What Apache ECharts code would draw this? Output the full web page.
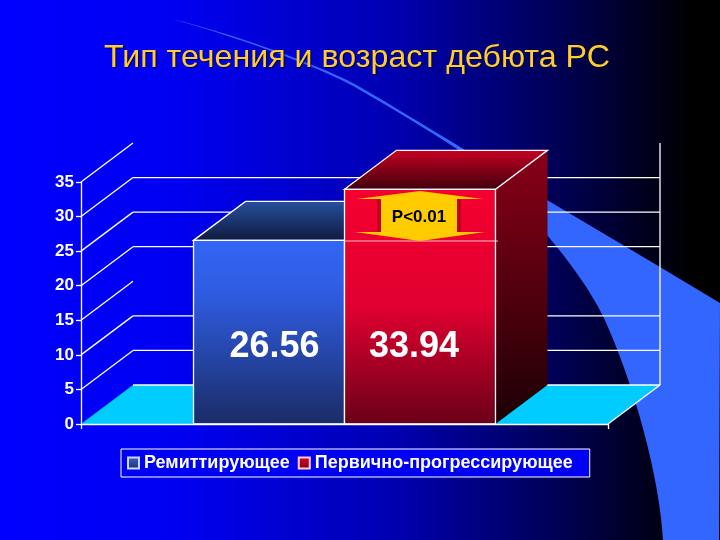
<!DOCTYPE html>
<html>
<head>
<meta charset="utf-8">
<style>html,body{margin:0;padding:0;background:#000}#c{width:720px;height:540px}</style>
<script src="https://cdn.jsdelivr.net/npm/echarts@6/dist/echarts.min.js"></script>
</head>
<body>
<div id="c"></div>
<script>
var titleText = 'Тип течения и возраст дебюта РС';
var categories = ['Возраст дебюта'];
var seriesNames = ['Ремиттирующее', 'Первично-прогрессирующее'];
var ages = [26.56, 33.94];
var yTicks = [0, 5, 10, 15, 20, 25, 30, 35];
var backWallTicks = [0, 5, 10, 20, 25, 30];
var pLabel = 'P<0.01';

var DX = 52, DY = 39, BAR_RATIO = 0.2865, LW = 1.3, FONT = '"Liberation Sans", Arial, sans-serif';
var SWOOSH = 'M172,19 C 205,27 255,42 300,60 C 325,70 345,78 360,87 C 395,107 425,126 457,145 L 547,200 L 660,267 L 720,303 L 719,540 L 663,540 C 660,480 635,385 603,316 C 590,290 570,262 547,235 C 520,205 490,176 457,149 C 425,128 395,110 360,90 C 345,81 325,72 300,62 C 255,44 205,28 172,19 Z';
function vgrad(stops) {
  return { type: 'linear', x: 0, y: 0, x2: 0, y2: 1,
    colorStops: stops.map(function (s) { return { offset: s[0], color: s[1] }; }) };
}
var palettes = [
  { front: vgrad([[0, '#3366f5'], [0.3, '#2f5be0'], [1, '#1a2c66']]),
    top: vgrad([[0, '#27509f'], [1, '#0e1a3e']]),
    side: vgrad([[0, '#14244f'], [1, '#0a1228']]),
    legend: vgrad([[0, '#3a66d8'], [1, '#1a2c66']]), dx: 5.5, drawSide: false },
  { front: vgrad([[0, '#f50030'], [0.5, '#e00030'], [1, '#6a0018']]),
    top: vgrad([[0, '#c80022'], [1, '#3e000c']]),
    side: vgrad([[0, '#8a0018'], [1, '#1c0004']]),
    legend: vgrad([[0, '#e00028'], [1, '#7a0018']]), dx: -6, drawSide: true }
];

function barRenderer(idx) {
  return function (params, api) {
    var v = api.value(1);
    var band = api.size([1, 0])[0];
    var w = band * BAR_RATIO;
    var c0 = api.coord([api.value(0), 0]);
    var c1 = api.coord([api.value(0), v]);
    var x0 = c0[0] + (idx - 1) * w, x1 = x0 + w, yb = c0[1], yt = c1[1];
    var pal = palettes[idx];
    var kids = [];
    if (pal.drawSide) {
      kids.push({ type: 'polygon', shape: { points: [[x1, yt], [x1 + DX, yt - DY], [x1 + DX, yb - DY], [x1, yb]] },
        style: { fill: pal.side } });
    }
    kids.push({ type: 'polygon', shape: { points: [[x0, yt], [x0 + DX, yt - DY], [x1 + DX, yt - DY], [x1, yt]] },
      style: { fill: pal.top, stroke: '#ffffff', lineWidth: LW } });
    kids.push({ type: 'rect', shape: { x: x0, y: yt, width: w, height: yb - yt },
      style: { fill: pal.front, stroke: '#ffffff', lineWidth: LW } });
    kids.push({ type: 'text', style: { text: v.toFixed(2), x: (x0 + x1) / 2 + pal.dx, y: api.coord([0, 11.1])[1],
      fill: '#ffffff', font: 'bold 36px ' + FONT, align: 'center', verticalAlign: 'middle' } });
    return { type: 'group', children: kids };
  };
}

function frameRenderer(params, api) {
  var v = api.value(1);
  var band = api.size([1, 0])[0];
  var c = api.coord([0, v]);
  var xl = c[0] - band / 2, xr = c[0] + band / 2, y = c[1];
  var line = { stroke: '#ffffff', lineWidth: LW };
  var kids = [];
  if (v === 0) {
    kids.push({ type: 'polygon', shape: { points: [[xl, y], [xl + DX, y - DY], [xr + DX, y - DY], [xr, y]] },
      style: { fill: '#00ccff' } });
    kids.push({ type: 'line', shape: { x1: xr, y1: y, x2: xr + DX, y2: y - DY }, style: line });
    var topY = api.coord([0, 35])[1] - DY;
    kids.push({ type: 'line', shape: { x1: xr + DX, y1: y - DY, x2: xr + DX, y2: topY }, style: line });
  } else {
    kids.push({ type: 'line', shape: { x1: xl, y1: y, x2: xl + DX, y2: y - DY }, style: line });
  }
  if (backWallTicks.indexOf(v) >= 0) {
    kids.push({ type: 'line', shape: { x1: xl + DX, y1: y - DY, x2: xr + DX, y2: y - DY }, style: line });
  }
  return { type: 'group', children: kids };
}

function swooshRenderer() {
  return { type: 'path', shape: { pathData: SWOOSH }, style: { fill: '#3366ff' } };
}

var chart = echarts.init(document.getElementById('c'), null, { renderer: 'canvas' });
chart.setOption({
  animation: false,
  backgroundColor: { type: 'linear', x: 0, y: 0, x2: 1, y2: 0, colorStops: [
    { offset: 0, color: '#0000ff' }, { offset: 0.25, color: '#0000f0' },
    { offset: 0.55, color: '#0000b0' }, { offset: 0.8, color: '#00004a' }, { offset: 0.96, color: '#000000' }, { offset: 1, color: '#000000' }] },
  title: { text: titleText, left: 99, top: 37,
    textStyle: { color: '#ffcc33', fontFamily: FONT, fontWeight: 'normal', fontSize: 32.2,
      textShadowColor: 'rgba(0,0,40,0.9)', textShadowOffsetX: 1, textShadowOffsetY: 1, textShadowBlur: 1 } },
  grid: { left: 81, right: 112, top: 182, bottom: 116 },
  xAxis: { type: 'category', data: categories, boundaryGap: true, z: 5,
    axisLabel: { show: false },
    axisLine: { lineStyle: { color: '#ffffff', width: LW } },
    axisTick: { show: true, length: 5, lineStyle: { color: '#ffffff', width: LW } } },
  yAxis: { type: 'value', min: 0, max: 35, interval: 5,
    splitLine: { show: false },
    axisLine: { show: true, lineStyle: { color: '#ffffff', width: LW } },
    axisTick: { show: true, length: 5, lineStyle: { color: '#ffffff', width: LW } },
    axisLabel: { color: '#ffffff', fontFamily: FONT, fontWeight: 'bold', fontSize: 17, margin: 7 } },
  legend: { left: 121, top: 449, padding: [5, 17, 5, 6], data: seriesNames, itemWidth: 11, itemHeight: 11, itemGap: 8,
    icon: 'rect', backgroundColor: '#0000f5', borderColor: '#ffffff', borderWidth: 1, borderRadius: 0,
    textStyle: { color: '#ffffff', fontFamily: FONT, fontWeight: 'bold', fontSize: 18 } },
  graphic: [
    { type: 'line', z: 50, silent: true, shape: { x1: 345, y1: 241, x2: 498, y2: 241 },
      style: { stroke: 'rgba(255,255,255,0.75)', lineWidth: 1 } },
    { type: 'rect', z: 50, silent: true, shape: { x: 377, y: 199, width: 84, height: 33 }, style: { fill: '#c4001f' } },
    { type: 'polygon', z: 51, silent: true,
      shape: { points: [[420, 191], [483, 199], [457, 199], [457, 232], [485, 232], [420, 241], [355, 232], [381, 232], [381, 199], [357, 199]] },
      style: { fill: '#ffcc00' } },
    { type: 'text', z: 52, silent: true,
      style: { text: pLabel, x: 419, y: 217, fill: '#000000', font: 'bold 17px ' + FONT, align: 'center', verticalAlign: 'middle' } }
  ],
  series: [
    { type: 'custom', name: 'swoosh', z: 0, silent: true, renderItem: swooshRenderer, clip: false,
      data: [[0, 0]], encode: { x: 0, y: 1 } },
    { type: 'custom', name: 'frame', z: 2, silent: true, renderItem: frameRenderer, clip: false,
      data: yTicks.map(function (v) { return [0, v]; }), encode: { x: 0, y: 1 } },
    { type: 'custom', name: seriesNames[0], z: 3, silent: true, renderItem: barRenderer(0), clip: false,
      itemStyle: { color: palettes[0].legend, borderColor: '#cfd8ff', borderWidth: 1 },
      data: [[0, ages[0]]], encode: { x: 0, y: 1 } },
    { type: 'custom', name: seriesNames[1], z: 4, silent: true, renderItem: barRenderer(1), clip: false,
      itemStyle: { color: palettes[1].legend, borderColor: '#ffd0d0', borderWidth: 1 },
      data: [[0, ages[1]]], encode: { x: 0, y: 1 } }
  ]
});
</script>
</body>
</html>
